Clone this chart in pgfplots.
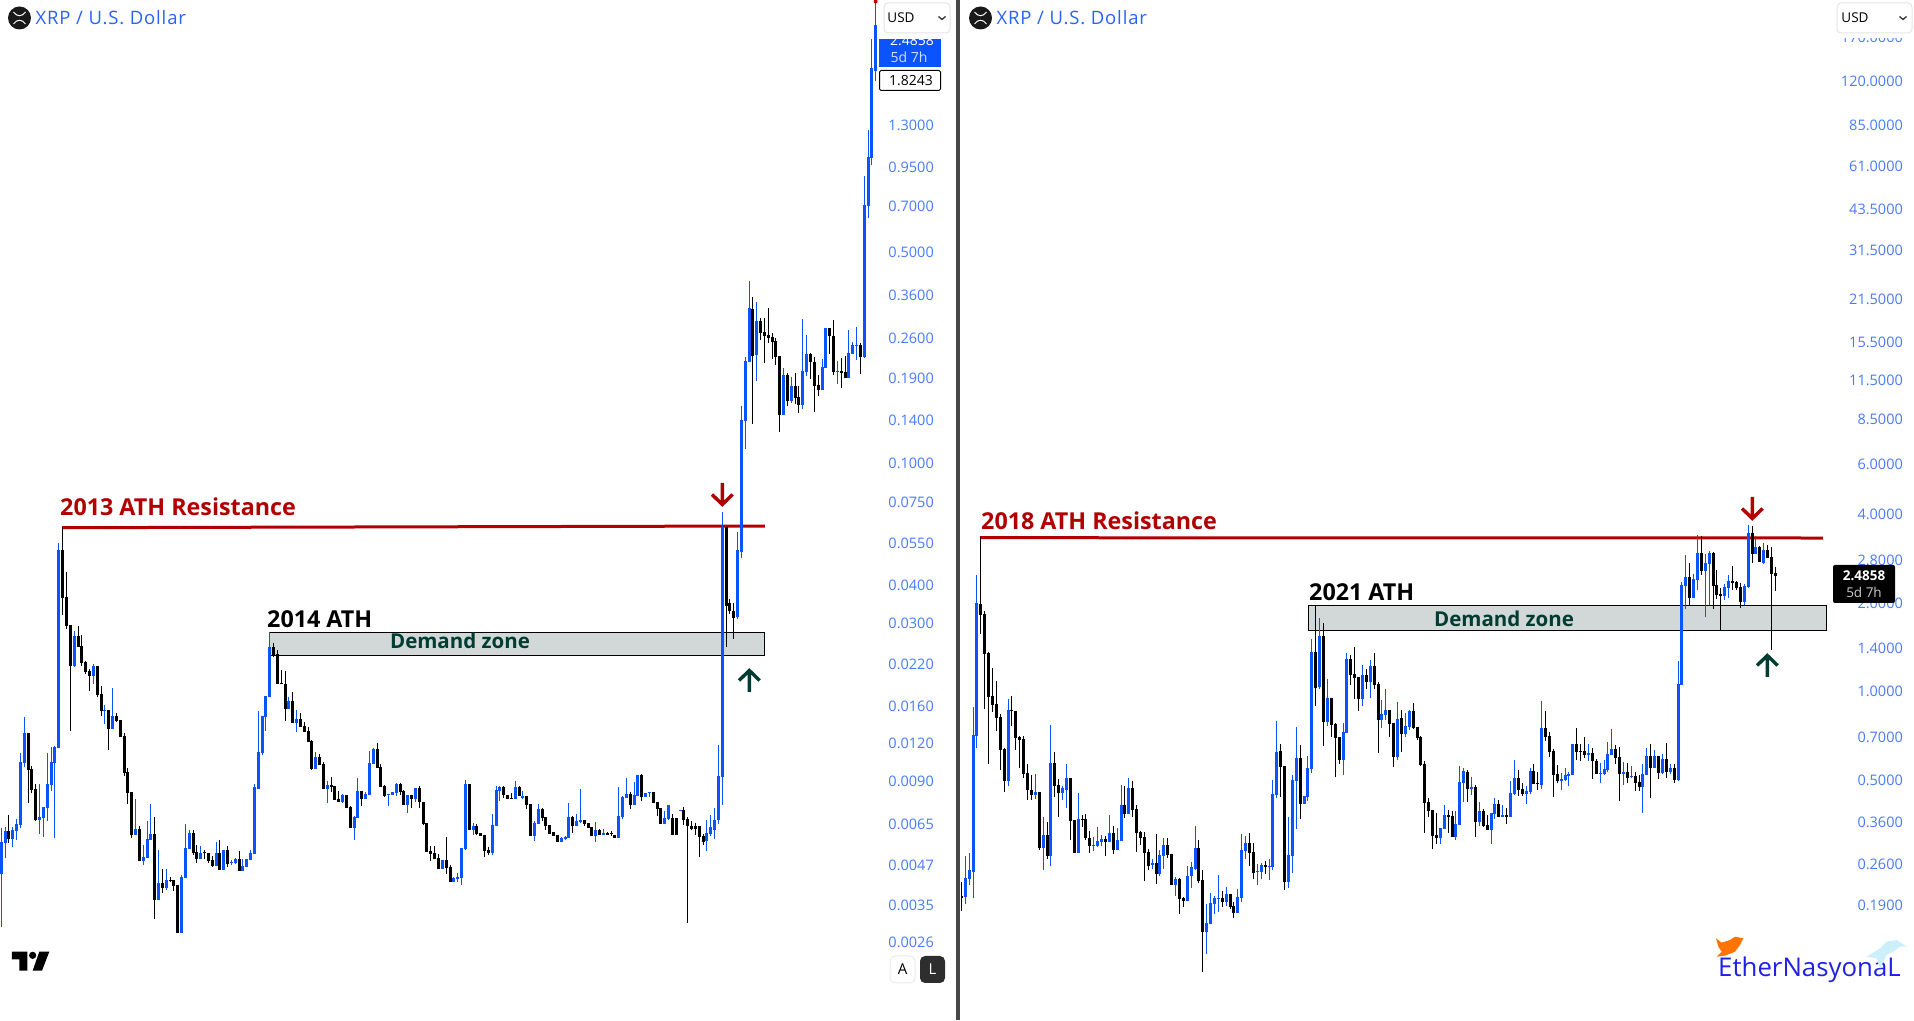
\documentclass[border=0pt]{standalone}
\usepackage{fontspec}
\usepackage{pgfplots}
\usepackage{pgfplotstable}
\pgfplotsset{compat=1.18}
\setmainfont{Open Sans}
\newfontfamily\hdrfont[LetterSpace=4.5]{Open Sans}
\definecolor{cblue}{RGB}{11,83,252}
\definecolor{tickblue}{RGB}{72,122,255}
\definecolor{linkblue}{RGB}{41,98,255}
\definecolor{resred}{RGB}{178,0,0}
\definecolor{zonefill}{RGB}{209,216,215}
\definecolor{zonegreen}{RGB}{0,60,50}
\pgfplotsset{
 panel/.style={scale only axis,y dir=reverse,y=1pt,ymin=0,ymax=1020,xtick=\empty,axis line style={draw=none},tick style={draw=none},major tick length=0pt,yticklabel pos=right,
  yticklabel style={anchor=east,inner sep=0pt,text=tickblue,font=\fontsize{14.5}{16}\selectfont}}
}
% Columns: i = candle number; d = 1 up (blue), 0 down (black);
% wt bt bb wb = wick top, body top, body bottom, wick bottom, read from the picture as
% rows of the chart's logarithmic price scale (row 0 = top). The y ticks give the price of each row.
\pgfplotstableread{
i d wt bt bb wb
0 1 828 842 874 927
1 1 827 831 843 858
2 0 815 831 839 843
3 1 827 830 839 847
4 1 819 824 831 840
5 1 753 762 825 828
6 1 717 733 763 767
7 0 733 733 770 803
8 0 766 769 790 793
9 0 784 789 820 821
10 1 784 817 820 834
11 1 807 807 818 837
12 1 753 784 808 821
13 1 747 762 785 791
14 1 746 747 763 838
15 1 543 550 748 748
16 0 527 550 598 615
17 0 572 597 626 629
18 0 625 625 666 731
19 1 631 636 666 667
20 0 626 636 647 647
21 0 635 646 663 666
22 0 661 662 672 674
23 0 669 671 676 691
24 1 664 666 676 684
25 0 666 666 695 697
26 0 686 694 711 716
27 1 705 710 711 724
28 0 710 710 729 750
29 1 688 716 729 729
30 0 713 716 721 722
31 0 720 720 737 737
32 0 733 736 773 776
33 0 768 772 793 804
34 0 792 792 835 838
35 1 799 829 835 835
36 0 826 829 861 861
37 1 845 857 861 865
38 1 821 839 858 858
39 1 804 834 840 840
40 0 817 834 900 919
41 1 850 883 900 900
42 0 869 883 888 893
43 1 869 880 888 890
44 0 877 880 881 882
45 0 880 880 886 891
46 0 885 885 933 933
47 1 875 877 933 933
48 1 824 848 878 878
49 1 830 833 849 849
50 0 830 833 853 855
51 0 845 852 859 863
52 1 846 853 859 859
53 0 850 852 853 859
54 0 853 853 861 863
55 0 856 860 866 867
56 1 842 853 866 866
57 0 840 853 870 870
58 1 850 850 870 870
59 0 846 850 864 867
60 1 860 862 863 865
61 1 858 859 863 864
62 0 851 859 871 871
63 1 859 866 871 871
64 1 859 859 867 867
65 1 850 853 860 860
66 1 784 787 854 854
67 1 711 752 789 789
68 1 716 716 753 755
69 1 696 696 717 731
70 1 632 647 697 697
71 0 643 647 656 657
72 0 650 654 684 684
73 0 670 683 684 684
74 0 671 684 709 721
75 1 697 701 709 709
76 0 692 701 723 723
77 1 710 719 723 732
78 0 713 719 727 727
79 0 722 726 732 732
80 0 727 731 742 742
81 0 740 741 769 770
82 1 752 757 769 769
83 0 754 757 765 765
84 0 762 764 789 789
85 1 781 785 789 803
86 0 777 785 787 792
87 0 786 786 800 800
88 0 791 799 802 802
89 1 794 795 802 803
90 0 795 795 808 808
91 0 806 807 828 828
92 1 816 817 828 840
93 1 778 791 818 818
94 0 791 791 799 806
95 1 792 794 799 799
96 1 751 763 795 795
97 1 748 749 764 764
98 0 743 749 768 768
99 0 764 767 787 787
100 0 785 786 796 797
101 1 794 794 795 806
102 1 792 792 795 795
103 1 783 784 793 796
104 0 783 784 792 795
105 0 790 791 805 805
106 1 795 795 805 813
107 0 795 795 799 808
108 1 788 788 799 802
109 0 786 788 802 808
110 0 802 802 824 825
111 0 823 823 852 852
112 0 846 851 854 861
113 0 846 853 859 859
114 0 854 858 869 869
115 1 860 860 869 869
116 0 837 860 868 874
117 0 865 867 882 882
118 1 877 878 882 882
119 1 873 877 879 882
120 1 848 848 878 885
121 1 780 784 849 850
122 0 784 784 830 830
123 1 823 826 830 835
124 0 824 826 834 835
125 0 833 833 836 836
126 0 835 835 851 857
127 0 847 850 853 855
128 1 814 825 853 855
129 1 786 790 826 826
130 1 786 787 791 801
131 0 786 787 795 798
132 0 795 795 799 799
133 0 793 798 799 799
134 1 781 787 799 799
135 0 786 787 796 796
136 1 791 796 798 799
137 0 796 796 805 809
138 0 804 804 836 836
139 1 821 823 836 841
140 1 804 809 824 824
141 0 808 809 818 821
142 0 817 817 826 830
143 0 825 825 834 834
144 0 832 832 836 836
145 0 835 835 842 842
146 1 837 838 842 842
147 1 836 837 839 840
148 1 803 817 838 838
149 0 816 817 826 833
150 1 814 821 826 826
151 1 789 820 822 823
152 0 820 820 824 826
153 0 823 823 828 828
154 0 827 827 836 836
155 1 822 830 836 842
156 0 829 830 835 835
157 1 829 833 835 835
158 0 832 833 835 835
159 0 831 833 834 836
160 0 835 835 838 838
161 1 787 816 838 838
162 1 796 797 817 819
163 1 778 794 798 798
164 0 792 794 805 809
165 1 782 795 805 805
166 1 775 775 796 796
167 0 774 775 797 801
168 1 793 793 797 797
169 1 792 792 793 797
170 0 792 792 803 803
171 0 802 802 809 816
172 0 808 808 824 824
173 1 811 818 824 824
174 1 805 805 819 820
175 0 814 818 835 835
176 0 818 818 835 835
177 1 810 810 811 811
178 0 807 810 820 825
179 0 817 819 826 923
180 0 821 826 829 830
181 0 823 826 829 835
182 0 826 826 837 857
183 0 834 836 842 845
184 1 820 833 841 851
185 1 815 827 834 836
186 1 808 820 830 839
187 1 745 776 820 824
188 1 512 527 777 805
189 0 527 527 606 647
190 0 599 603 611 614
191 0 603 611 618 639
192 1 532 550 617 619
193 1 406 420 552 558
194 1 357 361 421 449
195 1 281 308 362 362
196 0 297 309 356 424
197 1 302 321 355 381
198 0 318 321 333 340
199 0 318 332 336 363
200 0 308 335 338 343
201 0 333 337 342 359
202 0 338 341 357 365
203 0 356 356 415 432
204 1 368 375 415 415
205 0 373 375 401 406
206 1 377 386 401 403
207 0 373 386 398 404
208 0 386 397 405 413
209 1 319 371 405 409
210 1 335 354 372 376
211 0 353 354 362 379
212 0 357 362 386 412
213 0 375 385 390 396
214 1 359 367 390 390
215 1 328 328 368 368
216 0 328 328 336 354
217 0 320 336 372 375
218 1 361 371 372 384
219 0 358 371 373 388
220 0 356 372 378 378
221 1 330 353 378 378
222 1 342 345 354 354
223 1 327 345 346 360
224 0 343 345 357 374
225 1 176 205 357 358
226 1 130 157 206 218
227 1 39 68 158 165
228 1 2 25 71 81
}\leftcandles
\pgfplotstableread{
i d wt bt bb wb
0 0 882 896 898 911
1 1 856 878 897 904
2 1 853 870 879 885
3 1 707 735 872 898
4 1 575 603 736 748
5 0 537 604 615 634
6 0 611 614 654 709
7 0 652 653 697 764
8 0 668 696 705 712
9 0 681 704 718 731
10 0 714 717 750 770
11 0 748 749 781 792
12 1 699 710 781 786
13 0 696 710 711 726
14 0 711 711 738 750
15 0 736 737 740 768
16 0 736 739 774 778
17 0 764 773 790 800
18 0 775 790 795 800
19 1 774 792 795 799
20 0 792 792 848 850
21 1 817 835 848 870
22 0 822 835 856 859
23 1 725 763 856 866
24 0 752 763 786 797
25 0 779 785 793 817
26 1 786 788 793 800
27 1 764 778 790 808
28 0 778 778 821 840
29 0 820 820 853 853
30 1 793 819 853 853
31 0 815 819 820 827
32 0 814 819 838 840
33 0 831 838 846 853
34 1 837 845 846 851
35 1 827 841 846 847
36 1 835 839 842 846
37 0 836 839 842 856
38 1 815 833 842 842
39 0 826 833 850 854
40 1 828 840 850 850
41 1 785 805 841 841
42 0 786 805 814 818
43 1 778 788 814 814
44 0 781 788 810 817
45 0 805 809 833 852
46 0 831 832 838 845
47 0 832 837 853 881
48 0 849 852 866 870
49 1 859 863 865 869
50 0 834 863 874 884
51 1 850 855 874 876
52 1 838 845 856 869
53 0 838 845 855 858
54 0 854 854 885 885
55 1 877 879 885 896
56 0 878 879 899 914
57 0 897 898 901 907
58 1 866 876 901 901
59 1 862 867 876 888
60 1 826 848 869 870
61 0 840 848 881 883
62 0 870 880 932 972
63 1 904 923 932 954
64 1 893 903 924 924
65 1 896 898 904 914
66 1 875 898 899 912
67 0 891 898 902 907
68 1 887 894 902 906
69 0 894 894 907 909
70 0 902 906 913 918
71 1 889 897 913 913
72 1 834 850 898 902
73 1 836 843 851 859
74 0 833 843 853 866
75 0 843 852 873 879
76 1 864 871 872 885
77 1 863 865 872 879
78 0 861 865 867 874
79 1 859 866 867 880
80 1 780 794 867 870
81 1 721 752 795 798
82 0 744 751 767 797
83 0 766 766 882 890
84 1 817 855 882 888
85 1 775 780 856 873
86 1 727 758 781 829
87 0 745 758 804 819
88 1 796 796 804 804
89 1 756 768 797 801
90 1 639 652 769 773
91 0 606 652 688 706
92 1 618 636 687 689
93 0 623 636 722 746
94 1 679 698 722 726
95 0 698 698 725 737
96 0 723 724 738 777
97 0 737 737 760 764
98 1 723 732 760 775
99 1 653 659 733 733
100 0 655 659 675 685
101 0 647 674 678 699
102 0 677 677 699 711
103 1 665 675 699 706
104 0 669 675 682 689
105 1 660 666 682 698
106 0 653 666 685 689
107 0 682 684 720 753
108 1 700 714 720 728
109 1 689 710 715 720
110 0 710 710 724 737
111 0 723 723 757 767
112 1 702 719 757 760
113 0 710 718 734 752
114 1 713 726 734 737
115 1 710 711 727 730
116 0 703 711 728 729
117 0 727 727 738 740
118 0 736 737 765 766
119 0 761 764 803 833
120 0 798 802 811 817
121 0 810 810 836 849
122 0 813 835 838 844
123 1 828 828 838 844
124 1 805 815 829 829
125 0 810 815 817 833
126 0 811 816 837 837
127 1 811 824 837 840
128 1 766 782 825 825
129 1 768 771 783 802
130 0 770 772 789 802
131 1 777 787 789 795
132 0 785 787 822 837
133 1 802 811 822 826
134 0 809 811 826 827
135 0 815 825 830 830
136 1 813 813 830 844
137 1 798 804 814 819
138 0 800 804 817 817
139 1 805 815 817 817
140 0 808 815 817 824
141 1 781 793 817 817
142 1 760 778 794 795
143 0 770 778 790 796
144 0 783 789 794 796
145 1 786 791 794 804
146 1 768 771 792 794
147 0 764 771 784 784
148 0 772 783 784 790
149 1 701 728 785 789
150 0 711 728 737 741
151 0 732 736 752 757
152 0 749 751 775 797
153 0 765 774 781 783
154 1 773 779 781 790
155 1 768 775 780 781
156 1 772 774 776 786
157 1 744 744 775 775
158 0 728 744 752 760
159 0 744 751 752 761
160 0 737 751 755 758
161 1 744 753 755 761
162 0 748 753 761 779
163 0 759 761 774 774
164 1 763 773 774 783
165 1 760 769 774 775
166 1 742 754 770 772
167 1 729 749 755 755
168 0 745 749 758 764
169 0 747 757 774 801
170 1 762 772 774 785
171 0 763 772 778 783
172 1 766 776 777 778
173 0 772 776 783 791
174 0 775 782 787 791
175 1 764 774 787 813
176 1 748 756 775 775
177 0 744 756 768 798
178 1 750 756 768 768
179 0 756 756 773 779
180 1 754 759 773 774
181 0 743 759 772 778
182 1 764 768 772 774
183 0 764 768 780 783
184 1 661 684 780 781
185 1 582 585 685 685
186 1 555 577 586 609
187 0 563 577 598 605
188 1 574 579 598 598
189 1 535 553 580 590
190 0 536 553 571 575
191 1 554 563 571 617
192 1 551 553 564 605
193 0 552 553 586 609
194 0 570 585 595 599
195 0 588 594 596 630
196 1 584 587 596 600
197 1 575 581 588 598
198 0 566 581 583 590
199 0 581 582 588 590
200 0 583 587 602 608
201 1 584 586 602 605
202 1 525 533 587 588
203 0 526 533 554 563
204 1 536 547 554 554
205 0 546 547 562 562
206 1 543 550 563 564
207 0 545 550 558 558
208 0 547 557 574 650
209 0 567 573 576 591
}\rightcandles
\newcommand{\candles}[1]{%
 \addplot[mark=none,draw=black,line width=1pt,forget plot,quiver={u=0,v={\thisrow{wb}-\thisrow{wt}}}] table[x expr={\thisrow{d}==0?\thisrow{i}:nan},y=wt] {#1};
 \addplot[mark=none,draw=black,line width=3pt,forget plot,quiver={u=0,v={\thisrow{bb}-\thisrow{bt}}}] table[x expr={\thisrow{d}==0?\thisrow{i}:nan},y=bt] {#1};
 \addplot[mark=none,draw=cblue,line width=1pt,forget plot,quiver={u=0,v={\thisrow{wb}-\thisrow{wt}}}] table[x expr={\thisrow{d}==1?\thisrow{i}:nan},y=wt] {#1};
 \addplot[mark=none,draw=cblue,line width=3pt,forget plot,quiver={u=0,v={\thisrow{bb}-\thisrow{bt}}}] table[x expr={\thisrow{d}==1?\thisrow{i}:nan},y=bt] {#1};
}
\begin{document}
\begin{tikzpicture}
\useasboundingbox (0,0) rectangle (1914pt,1020pt);
\begin{axis}[panel,at={(0pt,0pt)},anchor=south west,x=3.835pt,xmin=-0.339,xmax=249.2,
 yticklabel style={xshift=-23pt},
 ytick={125,167,206,252,295,338,378,420,463,502,543,585,623,664,706,743,781,824,865,905,942},
 yticklabels={1.3000,0.9500,0.7000,0.5000,0.3600,0.2600,0.1900,0.1400,0.1000,0.0750,0.0550,0.0400,0.0300,0.0220,0.0160,0.0120,0.0090,0.0065,0.0047,0.0035,0.0026}]
\addplot[fill=zonefill,draw=black,line width=1.2pt,forget plot] coordinates {(69.9,632.3)(199.1,632.3)(199.1,655.3)(69.9,655.3)} -- cycle;
\addplot[resred,line width=3pt,mark=none,forget plot] coordinates {(15.83,527.7)(199.1,526)};
\candles{\leftcandles}
\end{axis}
\begin{axis}[panel,at={(961pt,0pt)},anchor=south west,x=3.895pt,xmin=-0.08,xmax=244.6,
 yticklabel style={xshift=-11pt},
 ytick={37,81,125,166,209,250,299,342,380,419,464,514,560,603,648,691,737,780,822,864,905},
 yticklabels={170.0000,120.0000,85.0000,61.0000,43.5000,31.5000,21.5000,15.5000,11.5000,8.5000,6.0000,4.0000,2.8000,2.0000,1.4000,1.0000,0.7000,0.5000,0.3600,0.2600,0.1900}]
\addplot[fill=zonefill,draw=black,line width=1.2pt,forget plot] coordinates {(89.2,605.3)(222.2,605.3)(222.2,630.3)(89.2,630.3)} -- cycle;
\addplot[resred,line width=3pt,mark=none,forget plot] coordinates {(4.8,537.7)(221.2,538)};
\candles{\rightcandles}
\end{axis}
\begin{scope}[x=1pt,y=-1pt,yshift=1020pt]
\fill[black!72] (956,0) rectangle (960,1020);
% headers
\foreach \ox/\tx in {0/0,961/961}{
 \fill[black!90] (\ox+19.5,18) circle (11.5pt);
 \draw[white,line width=1pt] (\ox+13.5,12) .. controls (\ox+17,17) and (\ox+22,17) .. (\ox+25.5,12);
 \draw[white,line width=1pt] (\ox+13.5,24) .. controls (\ox+17,19) and (\ox+22,19) .. (\ox+25.5,24);
 \node[anchor=west,inner sep=0pt,text=linkblue,font=\hdrfont\fontsize{18.5}{20}\selectfont] at (\ox+35.5,18) {XRP / U.S. Dollar};
}
% annotations
\node[anchor=west,inner sep=0pt,text=resred,font=\bfseries\fontsize{23.3}{26}\selectfont] at (60,507) {2013 ATH Resistance};
\node[anchor=west,inner sep=0pt,text=resred,font=\bfseries\fontsize{23.3}{26}\selectfont] at (981,521) {2018 ATH Resistance};
\node[anchor=west,inner sep=0pt,text=black,font=\bfseries\fontsize{23.3}{26}\selectfont] at (267,619) {2014 ATH};
\node[anchor=west,inner sep=0pt,text=black,font=\bfseries\fontsize{23.3}{26}\selectfont] at (1309,592) {2021 ATH};
\node[inner sep=0pt,text=zonegreen,font=\bfseries\fontsize{20.5}{24}\selectfont] at (460,641) {Demand zone};
\node[inner sep=0pt,text=zonegreen,font=\bfseries\fontsize{20.5}{24}\selectfont] at (1504,619) {Demand zone};
% arrows
\draw[resred,line width=3.4pt] (722.3,483)--(722.3,505) (712,494.5)--(722.3,504.5)--(732.6,494.5);
\draw[resred,line width=3.4pt] (1752.3,497)--(1752.3,519) (1742,508.5)--(1752.3,518.5)--(1762.6,508.5);
\draw[zonegreen,line width=3.4pt] (749.3,692)--(749.3,670) (739,680.5)--(749.3,670.5)--(759.6,680.5);
\draw[zonegreen,line width=3.4pt] (1767.3,677)--(1767.3,655) (1757,665.5)--(1767.3,655.5)--(1777.6,665.5);
% price labels, left
\fill[red!80!black] (875.7,1.5) circle (2pt);
\begin{scope}
\clip (879,39) rectangle (941,67);
\fill[cblue] (879,39) rectangle (941,67);
\node[text=white,font=\fontsize{14}{16}\selectfont] at (912,41) {2.4858};
\node[text=white!80!cblue,font=\fontsize{14}{16}\selectfont] at (909,57) {5d 7h};
\end{scope}
\draw[black,fill=white,line width=1pt,rounded corners=1.5pt] (879.5,70.5) rectangle (940.5,90.5);
\node[text=black,font=\fontsize{14}{16}\selectfont] at (911,81) {1.8243};
% price label, right
\fill[black,rounded corners=2pt] (1833,565) rectangle (1895,603);
\node[text=white,font=\bfseries\fontsize{13.5}{16}\selectfont] at (1864,576) {2.4858};
\node[text=white!80!black,font=\fontsize{13.5}{16}\selectfont] at (1864,592) {5d 7h};
% currency boxes
\fill[white] (1837,30) rectangle (1914,38);
\foreach \bx/\cx/\ex/\chev in {884/901/950/942,1837/1855/1912/1903}{
 \draw[black!10,fill=white,line width=1pt,rounded corners=4pt] (\bx,3) rectangle (\ex,33);
 \node[text=black,font=\fontsize{13.5}{16}\selectfont] at (\cx,18) {USD};
 \draw[black!80,line width=1.3pt] (\chev-3.5,16.5)--(\chev,19.5)--(\chev+3.5,16.5);
}
% TradingView mark
\begin{scope}[x=.3333pt,y=-.3333pt,shift={(0pt,-940pt)}]
\fill[black] (36,35)--(82,35)--(82,92)--(58,92)--(58,58)--(36,58)--cycle;
\fill[black] (98,46) circle (3.6pt);
\fill[black] (118,35)--(148,35)--(126,92)--(98,92)--cycle;
\end{scope}
% A and L buttons
\draw[black!8,fill=white,line width=1pt,rounded corners=5pt] (890,956) rectangle (915,983);
\node[text=black,font=\fontsize{15}{18}\selectfont] at (902.5,969.5) {A};
\fill[black!82,rounded corners=5pt] (920,956) rectangle (945,983);
\node[text=white,font=\fontsize{15}{18}\selectfont] at (932.5,969.5) {L};
% signature
\node[anchor=west,inner sep=0pt,text={rgb,255:red,32;green,32;blue,232},font=\fontsize{25.8}{30}\selectfont] at (1718,970) {EtherNasyonaL};
\begin{scope}[x=.3333pt,y=-.3333pt,shift={(1680pt,-890pt)}]
\fill[orange!90!red] (108,145)--(125,158)--(150,150)--(165,140)--(190,145)--(180,165)--(165,185)--(135,197)--(110,200)--(125,185)--(115,170)--cycle;
\fill[cyan!20] (560,200)--(600,175)--(620,155)--(650,150)--(680,170)--(660,170)--(640,185)--(620,195)--(600,235)--(590,205)--cycle;
\end{scope}
\end{scope}
\end{tikzpicture}
\end{document}
